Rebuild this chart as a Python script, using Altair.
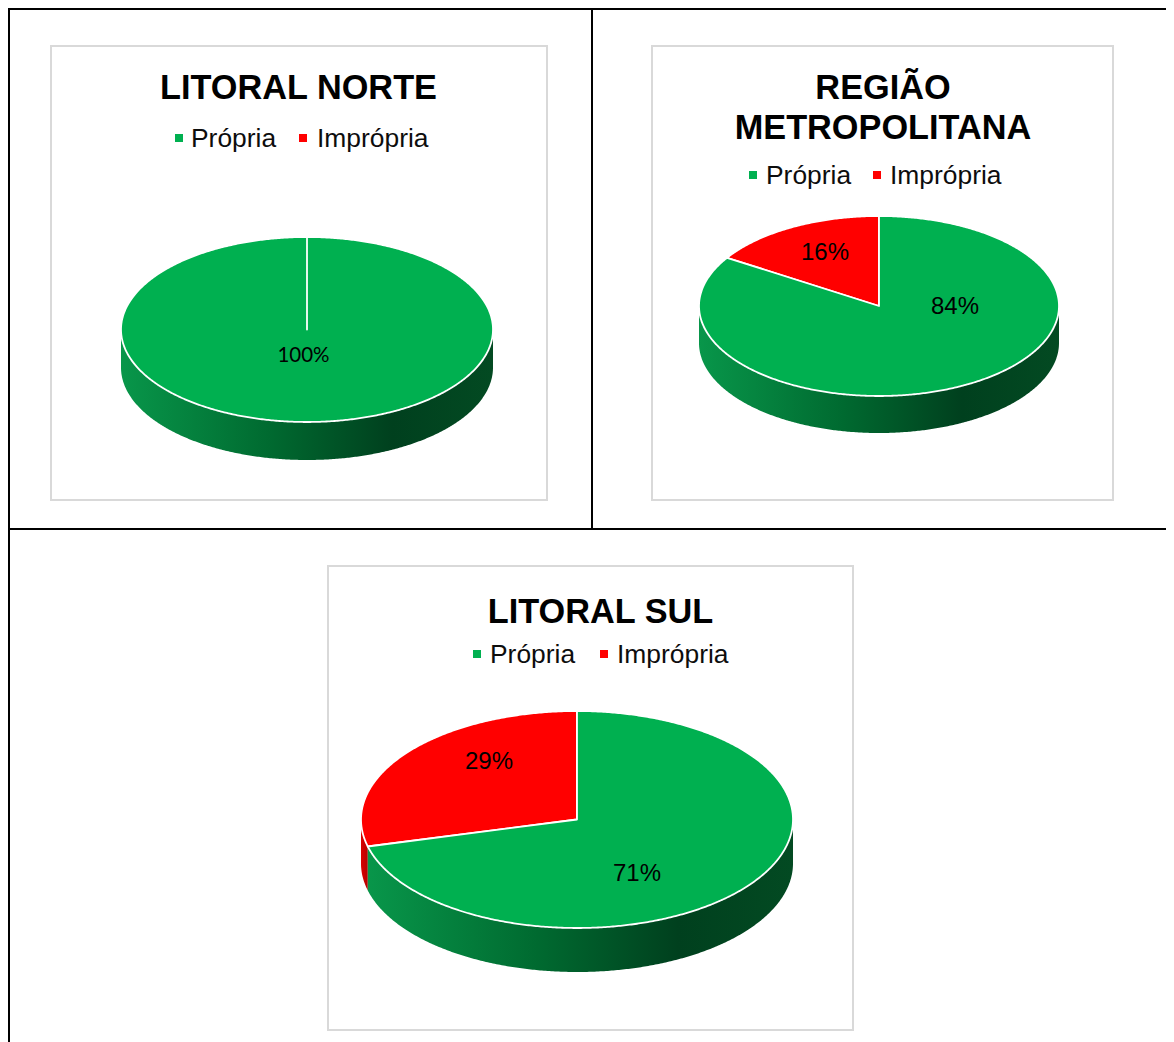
import math
import altair as alt
import pandas as pd

# ---------- values ----------
series = ["Imprópria", "Própria"]
litoral_norte = [0, 100]
regiao_metro = [16, 84]
litoral_sul = [29, 71]
percent_labels_norte = ["100%"]
percent_labels_metro = ["16%", "84%"]
percent_labels_sul = ["29%", "71%"]
titles = [["LITORAL NORTE"], ["REGIÃO", "METROPOLITANA"], ["LITORAL SUL"]]

GREEN, RED = "#00B050", "#FF0000"
colors = {"Própria": GREEN, "Imprópria": RED}
OFF = 8  # page margin

# ---------- layout (page pixels) ----------
pies = [
    dict(vals=litoral_norte, labels=percent_labels_norte, titles=titles[0], cx=307, cy=329.5, rx=186, ry=92.5, depth=38,
         frame=(51, 46, 547, 500), tx=298.5, ty=[98.5],
         legend_y=147, sq=(179, 303), lx=(191, 317), sq_y=138,
         lab=[(303.5, 362, "Lato", 20.5)]),
    dict(vals=regiao_metro, labels=percent_labels_metro, titles=titles[1], cx=879, cy=306, rx=180, ry=90, depth=37,
         frame=(652, 46, 1113, 500), tx=883, ty=[98.5, 138.5],
         legend_y=184, sq=(753, 877), lx=(766, 890), sq_y=175,
         lab=[(825, 260, "Liberation Sans", 24), (955, 313.5, "Liberation Sans", 24)]),
    dict(vals=litoral_sul, labels=percent_labels_sul, titles=titles[2], cx=577, cy=819.5, rx=216, ry=108.5, depth=44,
         frame=(328, 566, 853, 1030), tx=600.5, ty=[622.5],
         legend_y=663, sq=(477, 604), lx=(490, 617), sq_y=654,
         lab=[(489, 769, "Liberation Sans", 24), (637, 881, "Liberation Sans", 24)]),
]
table_lines = [(9, 9, 9, 1042), (8, 9, 1174, 9), (592, 9, 592, 529), (8, 529, 1174, 529)]


def pt(p, t, dy=0, grow=0):
    a = math.radians(t)
    return [p["cx"] - (p["rx"] + grow) * math.sin(a) - OFF,
            p["cy"] + dy - (p["ry"] + grow) * math.cos(a) - OFF]


def arc(p, t0, t1, dy=0, grow=0):
    n = max(2, int(abs(t1 - t0)) * 2)
    return [pt(p, t0 + (t1 - t0) * i / n, dy, grow) for i in range(n + 1)]


def feature(ring, **props):
    ring = ring + [ring[0]]
    return {"type": "Feature", "geometry": {"type": "Polygon", "coordinates": [ring]}, "properties": props}


tops, walls = [], {"Própria": [], "Imprópria": []}
for p in pies:
    total = sum(p["vals"])
    start = 0.0
    for name, v in zip(series, p["vals"]):
        if v == 0:
            continue
        end = start + 360.0 * v / total
        centre = [p["cx"] - OFF, p["cy"] - OFF]
        tops.append(feature([centre] + arc(p, start, end), color=colors[name]))
        a, b = max(start, 90), min(end, 270)
        if b > a:
            top = arc(p, a, b)
            low = arc(p, b, a, dy=p["depth"])
            walls[name].append(feature(top + low))
        start = end

proj = alt.Projection(type="identity", scale=1, translate=[0, 0])
X = lambda f: alt.X(f"{f}:Q", scale=None, axis=None)
Y = lambda f: alt.Y(f"{f}:Q", scale=None, axis=None)
X2 = lambda f: alt.X2(f"{f}:Q")
Y2 = lambda f: alt.Y2(f"{f}:Q")

frames = pd.DataFrame([dict(x=p["frame"][0] - OFF, y=p["frame"][1] - OFF, x2=p["frame"][2] - OFF, y2=p["frame"][3] - OFF) for p in pies])
frame_layer = alt.Chart(frames).mark_rect(fill="white", stroke="#d9d9d9", strokeWidth=2).encode(x=X("x"), y=Y("y"), x2=X2("x2"), y2=Y2("y2"))

lines = pd.DataFrame([dict(x=a - OFF, y=b - OFF, x2=c - OFF, y2=d - OFF) for a, b, c, d in table_lines])
line_layer = alt.Chart(lines).mark_rule(color="black", strokeWidth=2).encode(x=X("x"), y=Y("y"), x2=X2("x2"), y2=Y2("y2"))

green_grad = alt.LinearGradient(gradient="linear", x1=0, x2=1, y1=0, y2=0, stops=[
    alt.GradientStop(color="#08964a", offset=0),
    alt.GradientStop(color="#006a30", offset=0.4),
    alt.GradientStop(color="#00401e", offset=0.73),
    alt.GradientStop(color="#034a22", offset=1)])
red_grad = alt.LinearGradient(gradient="linear", x1=0, x2=1, y1=0, y2=0, stops=[
    alt.GradientStop(color="#d80000", offset=0),
    alt.GradientStop(color="#b80000", offset=1)])

wall_green = alt.Chart(alt.Data(values=walls["Própria"])).mark_geoshape(fill=green_grad, strokeWidth=0).project(**proj.to_dict())
wall_red = alt.Chart(alt.Data(values=walls["Imprópria"])).mark_geoshape(fill=red_grad, strokeWidth=0).project(**proj.to_dict())
top_layer = alt.Chart(alt.Data(values=tops)).mark_geoshape(stroke="white", strokeWidth=1.8, strokeJoin="round").encode(
    fill=alt.Fill("properties.color:N", scale=None, legend=None)).project(**proj.to_dict())

title_rows, legend_rows, square_rows, label_rows = [], [], [], []
for p in pies:
    for line, ty in zip(p["titles"], p["ty"]):
        title_rows.append(dict(x=p["tx"] - OFF, y=ty - OFF, t=line))
    for name, sx, lx in zip(["Própria", "Imprópria"], p["sq"], p["lx"]):
        square_rows.append(dict(x=sx - OFF, y=p["sq_y"] - OFF, c=colors[name]))
        legend_rows.append(dict(x=lx - OFF, y=p["legend_y"] - OFF, t=name))
    for (lx, ly, font, size), t in zip(p["lab"], p["labels"]):
        label_rows.append(dict(x=lx - OFF, y=ly - OFF, t=t, font=font, size=size))

title_layer = alt.Chart(pd.DataFrame(title_rows)).mark_text(font="Liberation Sans", fontWeight="bold", fontSize=34.3, baseline="alphabetic", align="center", color="black").encode(x=X("x"), y=Y("y"), text="t:N")
legend_layer = alt.Chart(pd.DataFrame(legend_rows)).mark_text(font="Liberation Sans", fontSize=26.4, baseline="alphabetic", align="left", color="#0d0d0d").encode(x=X("x"), y=Y("y"), text="t:N")
square_layer = alt.Chart(pd.DataFrame(square_rows)).mark_square(size=64, opacity=1, filled=True).encode(x=X("x"), y=Y("y"), color=alt.Color("c:N", scale=None, legend=None))
lab_df = pd.DataFrame(label_rows)
label_layers = [alt.Chart(lab_df[lab_df.font == f]).mark_text(font=f, fontSize=float(lab_df[lab_df.font == f]["size"].iloc[0]), baseline="alphabetic", align="center", color="black").encode(x=X("x"), y=Y("y"), text="t:N") for f in lab_df.font.unique()]

chart = alt.layer(frame_layer, line_layer, wall_red, wall_green, top_layer, title_layer, legend_layer, square_layer, *label_layers).properties(
    width=1158, height=1034, padding=0, background="white",
    autosize=alt.AutoSizeParams(type="none")
).configure_view(strokeWidth=0)

chart.save("out.html", embed_options={"renderer": "svg", "actions": False})
